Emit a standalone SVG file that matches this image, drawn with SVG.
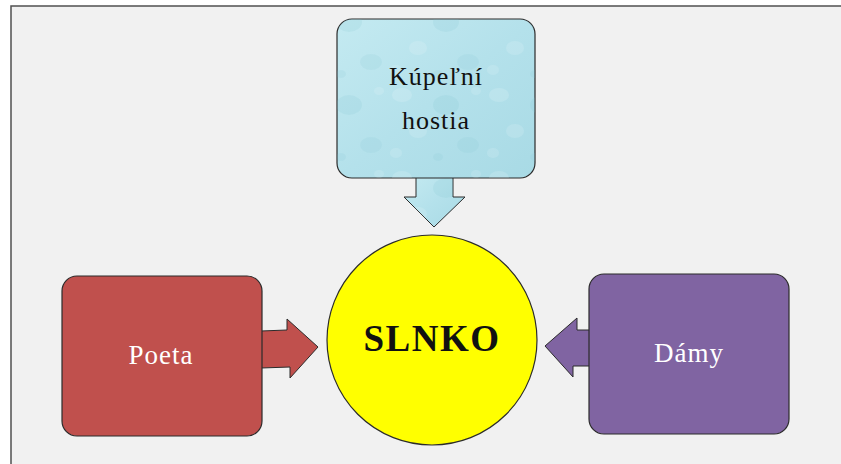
<svg xmlns="http://www.w3.org/2000/svg" width="841" height="464" viewBox="0 0 841 464">
  <style>
    .lbl { font-family: "Liberation Serif", "DejaVu Serif", serif; text-anchor: middle; }
    .edge { stroke: #2b2b2b; stroke-width: 1; stroke-linejoin: miter; }
    .box { stroke: #2b2b2b; stroke-width: 1.2; }
  </style>
  <defs>
    <linearGradient id="water" x1="0" y1="0" x2="1" y2="1">
      <stop offset="0" stop-color="#c4eaf1"/>
      <stop offset="0.5" stop-color="#b4e1eb"/>
      <stop offset="1" stop-color="#a8dae5"/>
    </linearGradient>
    <!-- faint droplets laid over the water fill -->
    <pattern id="bubbles" patternUnits="userSpaceOnUse" width="97" height="83">
      <ellipse cx="14" cy="12" rx="10" ry="7" fill="#ffffff" fill-opacity="0.14"/>
      <ellipse cx="58" cy="22" rx="13" ry="10" fill="#7fc1d1" fill-opacity="0.16"/>
      <ellipse cx="30" cy="48" rx="9" ry="7" fill="#ffffff" fill-opacity="0.13"/>
      <ellipse cx="80" cy="62" rx="11" ry="8" fill="#7fc1d1" fill-opacity="0.14"/>
      <ellipse cx="8" cy="70" rx="6" ry="5" fill="#ffffff" fill-opacity="0.12"/>
      <ellipse cx="50" cy="74" rx="5" ry="4" fill="#7fc1d1" fill-opacity="0.14"/>
      <ellipse cx="88" cy="8" rx="5" ry="4" fill="#ffffff" fill-opacity="0.12"/>
    </pattern>
  </defs>

  <!-- canvas frame -->
  <rect x="0" y="0" width="841" height="464" fill="#ffffff"/>
  <rect x="11" y="6" width="830" height="458" fill="#f1f1f1"/>
  <path d="M11,464 V6 H841" fill="none" stroke="#505050" stroke-width="1.5"/>

  <!-- connectors: block arrows pointing at the centre -->
  <g id="connectors">
    <path class="edge" fill="url(#water)" d="M416,177 H453 V197 H465 L434,227 L404,197 H416 Z"/>
    <path fill="url(#bubbles)" d="M416,177 H453 V197 H465 L434,227 L404,197 H416 Z"/>
    <path class="edge" fill="#c0504d" d="M261,331 L287,330 L287,319 L318,347 L290,378 L290,367 L261,368 Z"/>
    <path class="edge" fill="#8064a2" d="M590,330 L577,330 L577,318 L545,346 L573,377 L573,366 L590,366 Z"/>
  </g>

  <g id="node-top">
    <rect class="box" x="337" y="19" width="198" height="159" rx="15" ry="15" fill="url(#water)"/>
    <rect x="337" y="19" width="198" height="159" rx="15" ry="15" fill="url(#bubbles)"/>
    <text class="lbl" x="436" y="85" font-size="26" letter-spacing="1" fill="#111111">Kúpeľní</text>
    <text class="lbl" x="436" y="129" font-size="26" letter-spacing="1" fill="#111111">hostia</text>
  </g>

  <g id="node-left">
    <rect class="box" x="62" y="276" width="200" height="160" rx="15" ry="15" fill="#c0504d"/>
    <text class="lbl" x="161" y="364" font-size="27" letter-spacing="1" fill="#ffffff">Poeta</text>
  </g>

  <g id="node-right">
    <rect class="box" x="589" y="274" width="200" height="160" rx="15" ry="15" fill="#8064a2"/>
    <text class="lbl" x="689" y="362" font-size="27" letter-spacing="1" fill="#ffffff">Dámy</text>
  </g>

  <g id="node-center">
    <circle cx="432" cy="340" r="105" fill="#ffff00" stroke="#2b2b2b" stroke-width="1.2"/>
    <text class="lbl" x="432" y="351" font-size="37" font-weight="bold" letter-spacing="1.5" fill="#111111">SLNKO</text>
  </g>
</svg>
